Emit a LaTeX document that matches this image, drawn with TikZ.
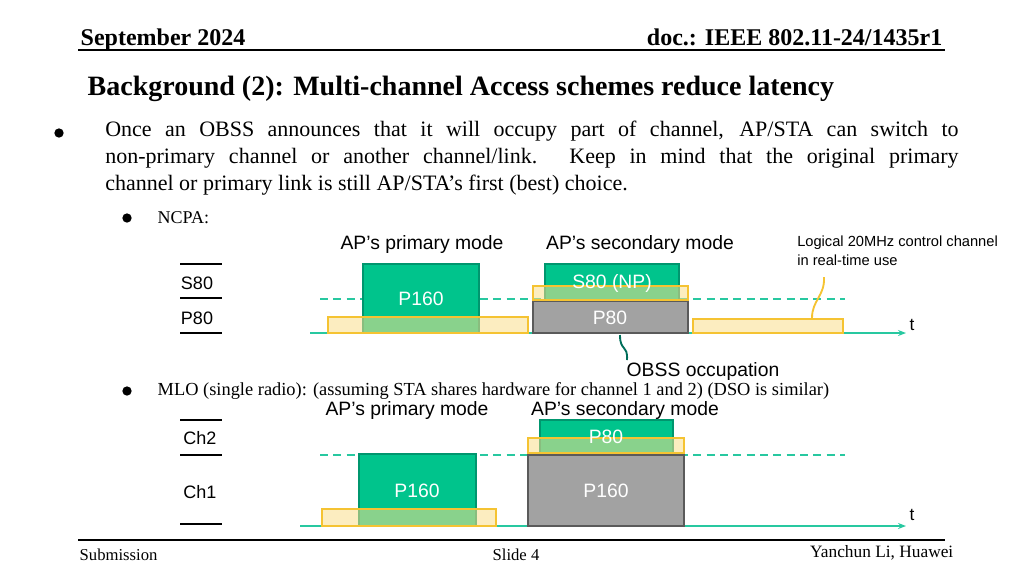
\documentclass[tikz,border=0pt]{standalone}
\usepackage{fontspec}
\setmainfont{Liberation Serif}
\newfontfamily\diagfont{Liberation Sans}
\usetikzlibrary{arrows.meta, positioning, calc}
\definecolor{SlotGreen}{RGB}{0, 196, 140}
\definecolor{SlotGreenDark}{RGB}{0, 150, 110}
\definecolor{BusyYellow}{RGB}{250, 222, 140}
\definecolor{BusyYellowDark}{RGB}{245, 195, 50}
\definecolor{ObssGray}{RGB}{162, 162, 162}
\definecolor{ObssGrayDark}{RGB}{90, 90, 90}
\definecolor{AxisTeal}{RGB}{40, 200, 160}
\definecolor{LeadTeal}{RGB}{0, 110, 90}

\tikzset{
  slot/.style={draw=SlotGreenDark, line width=1.2pt, fill=SlotGreen},
  obss/.style={draw=ObssGrayDark, line width=1.2pt, fill=ObssGray},
  busy/.style={draw=BusyYellowDark, line width=1.2pt, fill=BusyYellow, fill opacity=0.55},
  boxtext/.style={font=\diagfont\fontsize{14.5}{17}\selectfont, text=white},
  modetext/.style={font=\diagfont\fontsize{14.5}{17}\selectfont},
  chantext/.style={font=\diagfont\fontsize{13.5}{16}\selectfont, anchor=center},
  tick/.style={line width=0.8pt},
  border/.style={dashed, dash pattern=on 6pt off 4pt, AxisTeal, line width=0.8pt},
  timeaxis/.style={-{Stealth[length=6pt]}, AxisTeal, line width=0.9pt},
  dot/.style={circle, fill=black, inner sep=0pt}
}

\begin{document}
\begin{tikzpicture}[x=0.75pt,y=-0.75pt]
  \useasboundingbox (0,0) rectangle (1024,576);
  % header and footer
  \node[anchor=base west, font=\bfseries\fontsize{18}{21}\selectfont] (date) at (76,45) {September 2024};
  \node[anchor=base east, font=\bfseries\fontsize{18}{21}\selectfont] (doc) at (947,45) {doc.: IEEE 802.11-24/1435r1};
  \draw[line width=0.8pt] (78,50) -- (945,50);
  \node[anchor=west, font=\bfseries\fontsize{21}{25}\selectfont] (title) at (83,89) {Background (2): Multi-channel Access schemes reduce latency};
  \node[dot, minimum size=7pt] (b1) at (59,133) {};
  \node[anchor=north west, inner sep=0pt, text width=640pt, align=justify,
        font=\fontsize{16.5}{20.2}\selectfont] (para) at (105,121)
    {Once an OBSS announces that it will occupy part of channel, AP/STA can switch to\linebreak non-primary channel or another channel/link. Keep in mind that the original primary\linebreak channel or primary link is still AP/STA’s first (best) choice.};
  \node[dot, minimum size=7pt] (b2) at (127,218) {};
  \node[anchor=west, font=\fontsize{13.5}{16}\selectfont] (ncpa) at (153,218) {NCPA:};
  \draw[line width=0.8pt] (78,540) -- (945,540);
  \node[anchor=west, font=\fontsize{12.5}{15}\selectfont] (sub) at (75,555) {Submission};
  \node[font=\fontsize{12.5}{15}\selectfont] (slide) at (516,555) {Slide 4};
  \node[anchor=east, font=\fontsize{13}{15}\selectfont] (auth) at (958,553) {Yanchun Li, Huawei};

  % NCPA diagram
  \node[modetext] (prim1) at (422,244) {AP’s primary mode};
  \node[modetext] (sec1) at (640,244) {AP’s secondary mode};
  \node[anchor=north west, align=left, inner sep=0pt, font=\diagfont\fontsize{11}{14}\selectfont] (logic) at (797,236) {Logical 20MHz control channel\\in real-time use};
  \foreach \y in {264,298,333} \draw[tick] (180,\y) -- (222,\y);
  \node[chantext] (s80) at (197,283) {S80};
  \node[chantext] (p80) at (197,318) {P80};
  \coordinate (d1a) at (320,299);
  \coordinate (d1b) at (845,299);
  \draw[border] (d1a) -- (d1b);
  \coordinate (t1a) at (310,333);
  \coordinate (t1b) at (906,333);
  \draw[timeaxis] (t1a) -- (t1b);
  \node[font=\diagfont\fontsize{13}{15}\selectfont] (t1) at (912,325) {t};
  \draw[slot] (363,264) rectangle (479,333);
  \draw[slot] (545,264) rectangle (679,300);
  \draw[obss] (533,301) rectangle (688,333);
  \draw[busy] (328,317) rectangle (528,333);
  \draw[busy] (533,286) rectangle (688,300);
  \draw[busy] (693,319) rectangle (843,333);
  \node[boxtext] (p160a) at (421,299) {P160};
  \node[boxtext] (s80np) at (612,283) {S80 (NP)};
  \node[boxtext] (p80a) at (610,318) {P80};
  \node[modetext] (obsslbl) at (703,371) {OBSS occupation};
  \draw[LeadTeal, line width=1.4pt] (620,335) .. controls (620,352) and (628,344) .. (627,360);
  \draw[BusyYellowDark, line width=1.4pt] (812,318) .. controls (812,300) and (825,296) .. (824,277);

  % MLO diagram
  \node[dot, minimum size=7pt] (b3) at (127,391) {};
  \node[anchor=west, font=\fontsize{13.8}{16}\selectfont] (mlo) at (153,391) {MLO (single radio): (assuming STA shares hardware for channel 1 and 2) (DSO is similar)};
  \node[modetext] (prim2) at (407,410) {AP’s primary mode};
  \node[modetext] (sec2) at (625,410) {AP’s secondary mode};
  \foreach \y in {420,455,524} \draw[tick] (180,\y) -- (222,\y);
  \node[chantext] (ch2) at (200,438) {Ch2};
  \node[chantext] (ch1) at (200,492) {Ch1};
  \coordinate (d2a) at (320,455);
  \coordinate (d2b) at (845,455);
  \draw[border] (d2a) -- (d2b);
  \coordinate (t2a) at (300,526);
  \coordinate (t2b) at (906,526);
  \draw[timeaxis] (t2a) -- (t2b);
  \node[font=\diagfont\fontsize{13}{15}\selectfont] (t2) at (912,515) {t};
  \draw[slot] (359,454) rectangle (476,526);
  \draw[slot] (540,420) rectangle (673,454);
  \draw[obss] (528,455) rectangle (684,526);
  \draw[busy] (322,509) rectangle (496,526);
  \draw[busy] (528,438) rectangle (684,453);
  \node[boxtext] (p160b) at (417,491) {P160};
  \node[boxtext] (p80b) at (606,437) {P80};
  \node[boxtext] (p160c) at (606,491) {P160};
\end{tikzpicture}
\end{document}
